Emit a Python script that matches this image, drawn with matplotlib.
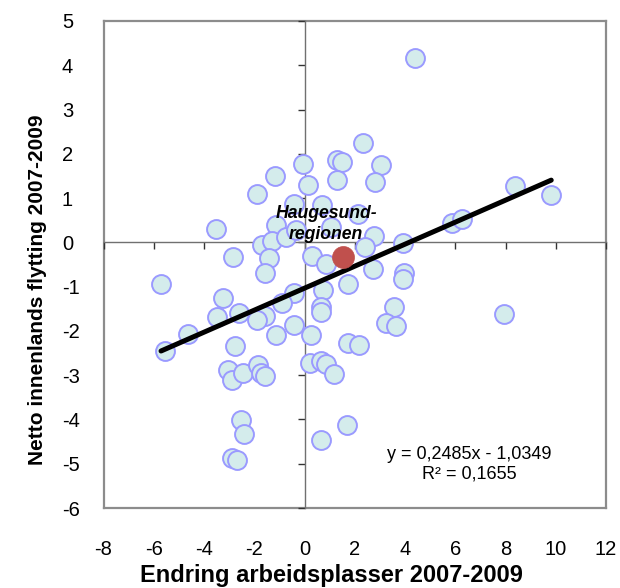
import matplotlib
matplotlib.use("Agg")
import matplotlib.pyplot as plt
import numpy as np

plt.rcParams['font.family'] = ['Liberation Sans', 'DejaVu Sans']

# Regions: change in jobs (x) vs net domestic migration (y), 2007-2009
x_vals = [-0.05, -1.19, 0.13, -1.91, -0.42, -3.54, -1.15, -1.69, -1.29, -0.75,
          -0.35, -2.85, -1.42, -1.58, 0.31, -5.71, -3.25, -0.42, -0.89, -3.49,
          -2.62, -1.58, -1.89, -0.42, 2.34, 1.31, 1.49, 3.06, 1.31, 2.82,
          0.71, 2.11, 1.05, 2.78, 2.42, 0.87, 3.94, 2.74, 3.98, 3.91,
          1.75, 0.75, 5.87, 6.25, 0.65, 0.65, 3.58, 3.25, 3.65, 0.25,
          1.75, 2.15, 0.21, 0.65, 0.85, 1.18, 1.71, 0.67, -5.55, -4.62,
          -2.75, -3.05, -2.88, -2.45, -1.85, -1.75, -1.59, -2.51, -2.42, -2.89,
          -2.69, -1.15, 4.38, 8.38, 9.82, 7.95]
y_vals = [1.76, 1.50, 1.29, 1.09, 0.86, 0.31, 0.40, -0.05, 0.03, 0.11,
          0.28, -0.34, -0.36, -0.69, -0.31, -0.94, -1.25, -1.15, -1.36, -1.68,
          -1.59, -1.66, -1.76, -1.87, 2.25, 1.87, 1.81, 1.74, 1.41, 1.37,
          0.84, 0.65, 0.35, 0.14, -0.10, -0.49, -0.02, -0.61, -0.70, -0.82,
          -0.93, -1.08, 0.44, 0.52, -1.47, -1.57, -1.46, -1.83, -1.89, -2.10,
          -2.27, -2.32, -2.72, -2.68, -2.74, -2.98, -4.12, -4.47, -2.45, -2.08,
          -2.35, -2.88, -3.10, -2.94, -2.78, -2.96, -3.02, -4.02, -4.32, -4.88,
          -4.91, -2.10, 4.16, 1.28, 1.07, -1.61]

highlight_name = "Haugesund-\nregionen"
highlight_x = [1.52]
highlight_y = [-0.33]

slope = 0.2485
intercept = -1.0349
r_squared = 0.1655

x_ticks = [-8, -6, -4, -2, 0, 2, 4, 6, 8, 10, 12]
y_ticks = [-6, -5, -4, -3, -2, -1, 0, 1, 2, 3, 4, 5]

fig = plt.figure(figsize=(6.2, 5.88), dpi=100)
pos = [103.5 / 620, 1 - 508 / 588, (606 - 103.5) / 620, (508 - 21) / 588]

# background axes: frame + tick labels at edges
ax_bg = fig.add_axes(pos, zorder=0)
ax_bg.set_xlim(-8, 12)
ax_bg.set_ylim(-6, 5)
ax_bg.set_xticks(x_ticks)
ax_bg.set_yticks(y_ticks)
ax_bg.set_xticklabels([str(v) for v in x_ticks])
ax_bg.set_yticklabels([str(v) for v in y_ticks])
ax_bg.tick_params(length=0, labelsize=14.5)
ax_bg.tick_params(axis='x', pad=23)
ax_bg.tick_params(axis='y', pad=30)
for lab in ax_bg.get_yticklabels():
    lab.set_horizontalalignment('left')
for s in ax_bg.spines.values():
    s.set_color('#8c8c8c')
    s.set_linewidth(1.6)
ax_bg.set_xlabel('Endring arbeidsplasser 2007-2009', fontsize=17, fontweight='bold')
ax_bg.set_ylabel('Netto innenlands flytting 2007-2009', fontsize=15, fontweight='bold')
ax_bg.xaxis.set_label_coords(0.453, -0.138)
ax_bg.yaxis.set_label_coords(-0.132, 0.448)
ax_bg.xaxis.label.set_verticalalignment('center')
ax_bg.yaxis.label.set_verticalalignment('center')

# foreground axes: axis lines through origin + data
ax = fig.add_axes(pos, zorder=1)
ax.patch.set_visible(False)
ax.set_xlim(-8, 12)
ax.set_ylim(-6, 5)
ax.spines['left'].set_position(('data', 0))
ax.spines['bottom'].set_position(('data', 0))
ax.spines['top'].set_visible(False)
ax.spines['right'].set_visible(False)
for k in ['left', 'bottom']:
    ax.spines[k].set_color('#707070')
    ax.spines[k].set_linewidth(1.0)
ax.set_xticks(x_ticks)
ax.set_yticks(y_ticks)
ax.tick_params(direction='out', length=5, width=1.0, color='#333333',
               labelbottom=False, labelleft=False)

ax.scatter(x_vals, y_vals, s=185, facecolor='#d4ecec', edgecolor='#9a9aff',
           linewidth=1.4, zorder=3)

xl = np.array([min(x_vals), max(x_vals)])
ax.plot(xl, slope * xl + intercept, color='black', linewidth=3.6,
        solid_capstyle='round', zorder=4)

ax.scatter(highlight_x, highlight_y, s=250, facecolor='#c0504d',
           edgecolor='#c0504d', linewidth=0.5, zorder=5)
ax.text(highlight_x[0] - 0.66, highlight_y[0] + 0.74, highlight_name,
        ha='center', va='center', fontsize=12.7, fontweight='bold',
        fontstyle='italic', linespacing=1.3, zorder=6)

eq = "y = {}x - {}".format(str(slope).replace('.', ','),
                          str(abs(intercept)).replace('.', ','))
r2 = "R² = {}".format(str(r_squared).replace('.', ','))
ax.text(6.54, -5.01, eq + "\n" + r2, ha='center', va='center', fontsize=13,
        linespacing=1.25, multialignment='center', zorder=6)

fig.savefig('out.png', dpi=100)
